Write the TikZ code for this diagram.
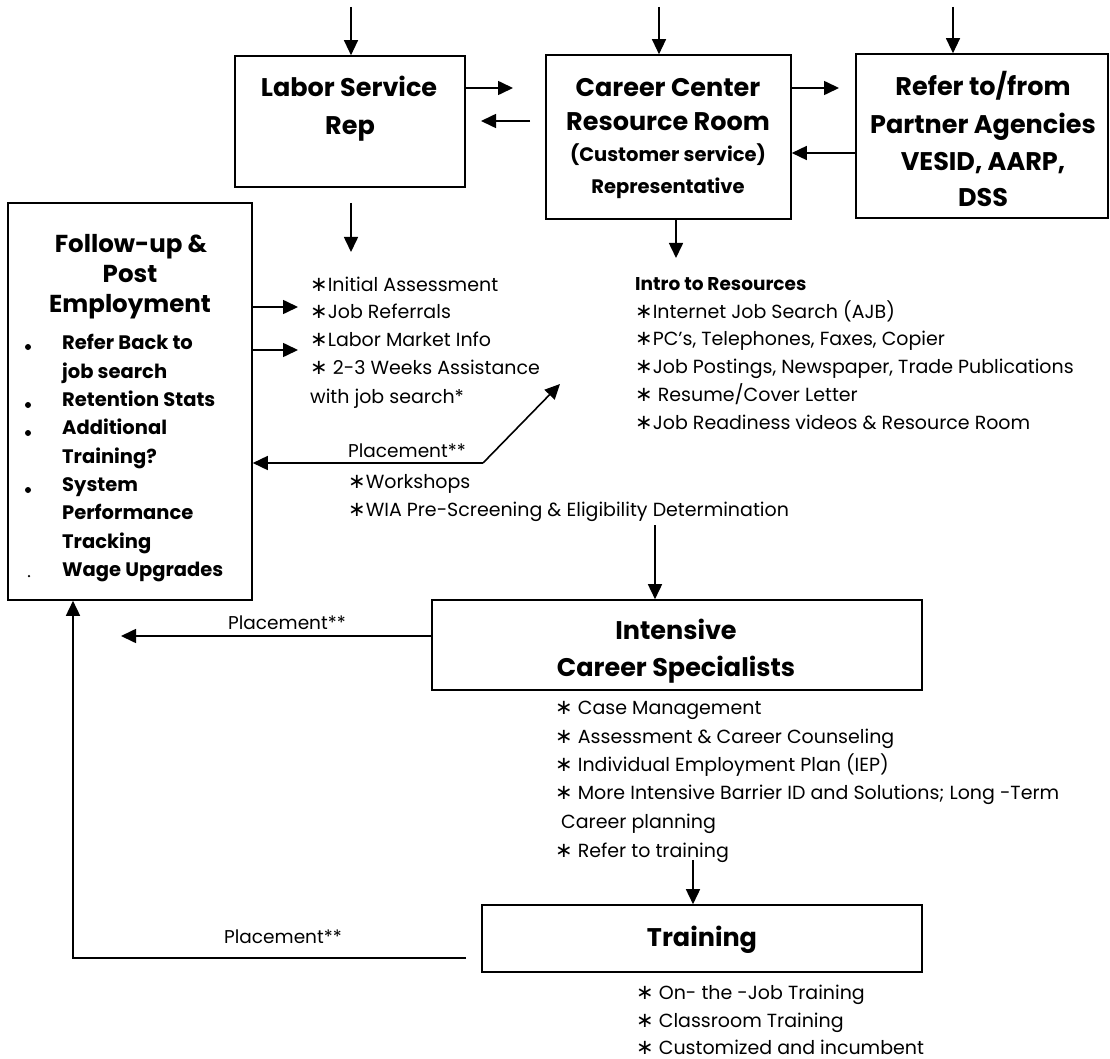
\documentclass[tikz,border=0pt]{standalone}
\usepackage{fontspec}
\setmainfont{Poppins}
\newfontfamily\djv{DejaVu Sans}
\usetikzlibrary{arrows.meta}
\newcommand\stt{{\djv\fontsize{21}{21}\selectfont ∗}}
\begin{document}
\begin{tikzpicture}[x=1pt,y=-1pt,
  box/.style={draw, line width=1.6pt, inner sep=0pt},
  arr/.style={line width=1.6pt, -{Triangle[length=15pt,width=14pt]}},
  thinarr/.style={line width=1.2pt, -{Triangle[length=15pt,width=14pt]}},
  ttl/.style={font=\bfseries\fontsize{25.5}{30}\selectfont, inner sep=0pt, text height=18pt, text depth=0pt},
  sub/.style={font=\bfseries\fontsize{19.5}{22}\selectfont, inner sep=0pt, text height=13pt, text depth=0pt},
  itm/.style={font=\fontsize{19}{22}\selectfont, inner sep=0pt, anchor=west, text height=13pt, text depth=0pt},
  fitm/.style={font=\bfseries\fontsize{19.5}{22}\selectfont, inner sep=0pt, anchor=west, text height=13pt, text depth=0pt},
  lbl/.style={font=\fontsize{18.5}{22}\selectfont, inner sep=0pt, text height=13pt, text depth=0pt},
  bul/.style={circle, fill, inner sep=0pt, minimum size=6pt}
]
\useasboundingbox (0,0) rectangle (1110,1059);
\fill[white] (0,0) rectangle (1110,1059);

% boxes
\node[box, minimum width=230pt, minimum height=131pt] (labor) at (350,121.5) {};
\node[box, minimum width=245pt, minimum height=164pt] (cc) at (668.5,137) {};
\node[box, minimum width=252pt, minimum height=164pt] (refer) at (982,136) {};
\node[box, minimum width=244pt, minimum height=397pt] (follow) at (130,401.5) {};
\node[box, minimum width=490pt, minimum height=90pt] (intens) at (677,645) {};
\node[box, minimum width=440pt, minimum height=67pt] (train) at (702,938.5) {};

% box texts
\node[ttl] (l1) at (349,88) {Labor Service};
\node[ttl] (l2) at (350,126) {Rep};
\node[ttl] (c1) at (668,88) {Career Center};
\node[ttl] (c2) at (668,122) {Resource Room};
\node[sub] (c3) at (668,155) {(Customer service)};
\node[sub] (c4) at (668,187) {Representative};
\node[ttl] (r1) at (983,87) {Refer to/from};
\node[ttl] (r2) at (983,125) {Partner Agencies};
\node[ttl] (r3) at (983,162) {VESID, AARP,};
\node[ttl] (r4) at (983,198) {DSS};
\node[ttl, font=\bfseries\fontsize{24.5}{30}\selectfont] (f1) at (131,243) {Follow-up \&};
\node[ttl, font=\bfseries\fontsize{24.5}{30}\selectfont] (f2) at (130,273) {Post};
\node[ttl, font=\bfseries\fontsize{24.5}{30}\selectfont] (f3) at (130,303) {Employment};
\node[fitm] (fi1) at (62,343) {Refer Back to};
\node[fitm] (fi2) at (62,372) {job search};
\node[fitm] (fi3) at (62,400) {Retention Stats};
\node[fitm] (fi4) at (62,428) {Additional};
\node[fitm] (fi5) at (62,457) {Training?};
\node[fitm] (fi6) at (62,485) {System};
\node[fitm] (fi7) at (62,513) {Performance};
\node[fitm] (fi8) at (62,542) {Tracking};
\node[fitm] (fi9) at (62,570) {Wage Upgrades};
\node[bul] (b1) at (28,347) {};
\node[bul] (b2) at (28,405) {};
\node[bul] (b3) at (28,433) {};
\node[bul] (b4) at (28,490) {};
\node[bul, minimum size=2.5pt] (b5) at (29,576) {};
\node[ttl] (i1) at (676,630) {Intensive};
\node[ttl] (i2) at (676,667) {Career Specialists};
\node[ttl] (t1) at (702,937) {Training};

% list A
\node[itm] (a1) at (310,285) {\stt Initial Assessment};
\node[itm] (a2) at (310,312) {\stt Job Referrals};
\node[itm] (a3) at (310,340) {\stt Labor Market Info};
\node[itm] (a4) at (310,368) {\stt{} 2-3 Weeks Assistance};
\node[itm] (a5) at (310,397) {with job search*};
\node[lbl] (p1) at (407,451) {Placement**};
\node[itm] (w1) at (348,482) {\stt Workshops};
\node[itm] (w2) at (348,510) {\stt WIA Pre-Screening \& Eligibility Determination};

% intro list
\node[itm, font=\bfseries\fontsize{18.5}{22}\selectfont] (n0) at (635,284) {Intro to Resources};
\node[itm] (n1) at (635,312) {\stt Internet Job Search (AJB)};
\node[itm] (n2) at (635,339) {\stt PC's, Telephones, Faxes, Copier};
\node[itm] (n3) at (635,367) {\stt Job Postings, Newspaper, Trade Publications};
\node[itm] (n4) at (635,395) {\stt{} Resume/Cover Letter};
\node[itm] (n5) at (635,423) {\stt Job Readiness videos \& Resource Room};

% list B
\node[itm] (s1) at (555,708) {\stt{} Case Management};
\node[itm] (s2) at (555,737) {\stt{} Assessment \& Career Counseling};
\node[itm] (s3) at (555,765) {\stt{} Individual Employment Plan (IEP)};
\node[itm] (s4) at (555,793) {\stt{} More Intensive Barrier ID and Solutions; Long -Term};
\node[itm] (s5) at (561,822) {Career planning};
\node[itm] (s6) at (555,851) {\stt{} Refer to training};

% list C
\node[itm] (k1) at (636,993) {\stt{} On- the -Job Training};
\node[itm] (k2) at (636,1021) {\stt{} Classroom Training};
\node[itm] (k3) at (636,1048) {\stt{} Customized and incumbent};

\node[lbl] (p2) at (287,623) {Placement**};
\node[lbl] (p3) at (283,937) {Placement**};

% connectors
\coordinate (ta) at (351,7);
\coordinate (tb) at (659,7);
\coordinate (tc) at (953,7);
\draw[thinarr] (ta) -- (ta |- labor.north);
\draw[thinarr] (tb) -- (tb |- cc.north);
\draw[thinarr] (tc) -- (tc |- refer.north);

\coordinate (lcE) at (513,88);
\draw[arr] (lcE -| labor.east) -- (lcE);
\coordinate (clS) at (530,121);
\coordinate (clE) at (481,121);
\draw[arr] (clS) -- (clE);
\coordinate (crE) at (839,88);
\draw[arr] (crE -| cc.east) -- (crE);
\coordinate (rcY) at (900,153);
\draw[arr] (rcY -| refer.west) -- (rcY -| cc.east);

\coordinate (ldS) at (351,203);
\coordinate (ldE) at (351,252);
\draw[arr] (ldS) -- (ldE);
\coordinate (cdE) at (676,258);
\draw[arr] (cdE |- cc.south) -- (cdE);

\coordinate (fa1) at (298,307);
\coordinate (fa2) at (298,350);
\draw[arr] (fa1 -| follow.east) -- (fa1);
\draw[arr] (fa2 -| follow.east) -- (fa2);

\coordinate (pc) at (483,463);
\coordinate (pd) at (560,384);
\draw[arr] (pc) -- (pc -| follow.east);
\draw[arr] (pc) -- (pd);

\coordinate (wd) at (655,525);
\draw[arr] (wd) -- (wd |- intens.north);

\coordinate (ie) at (121,636);
\draw[arr] (ie -| intens.west) -- (ie);

\coordinate (td) at (693,860);
\draw[arr] (td) -- (td |- train.north);

\coordinate (bs) at (466,958);
\coordinate (bc) at (73,958);
\draw[arr] (bs) -- (bc) -- (bc |- follow.south);
\end{tikzpicture}
\end{document}
